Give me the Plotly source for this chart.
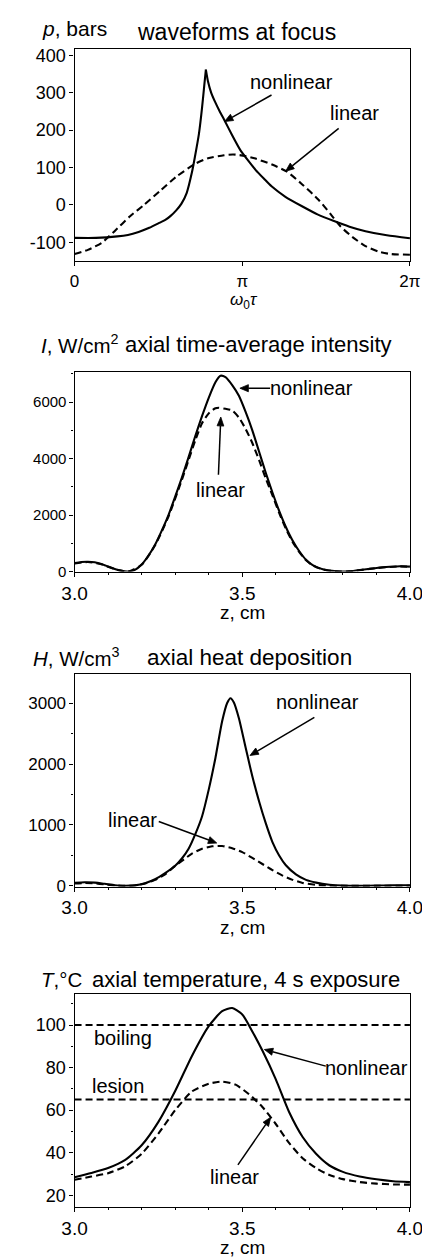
import math
import plotly.graph_objects as go

# ---- waveforms at focus (p, bars vs omega0*tau) ----
wave_nl_x = [0, 0.4, 0.8, 1.0, 1.2, 1.4, 1.6, 1.7, 1.8, 1.9, 2.0, 2.1, 2.2, 2.25, 2.33, 2.39, 2.43, 2.46,
             2.50, 2.56, 2.635, 2.72, 2.81, 2.95, 3.10, 3.25, 3.39, 3.55, 3.69, 3.95, 4.27, 4.55, 4.86,
             5.15, 5.45, 5.85, 6.2832]
wave_nl_y = [-88, -88, -84, -80, -72, -61, -47, -40, -29, -15, 3, 32, 88, 125, 190, 262, 320, 362,
             330, 300, 275, 250, 226, 187, 148, 119, 94, 70, 50, 22, -4, -25, -43,
             -58, -70, -81, -89]
wave_lin_x = [0, 0.25, 0.51, 0.75, 1.04, 1.3, 1.62, 1.9, 2.27, 2.5, 2.8, 2.97, 3.2, 3.39, 3.7, 3.98,
              4.25, 4.57, 4.8, 4.98, 5.2, 5.45, 5.7, 5.92, 6.2832]
wave_lin_y = [-131, -120, -101, -70, -30, 0, 40, 75, 111, 125, 133, 135, 131, 124, 108, 89,
              57, 14, -25, -57, -85, -110, -125, -131, -133]
wave_yticks = [-100, 0, 100, 200, 300, 400]
wave_yticktext = ["-100", "0", "100", "200", "300", "400"]

# ---- axial time-average intensity (W/cm^2 vs z, cm) ----
int_nl_z = [3.00, 3.02, 3.04, 3.06, 3.08, 3.10, 3.12, 3.14, 3.16, 3.18, 3.20, 3.22, 3.24, 3.26, 3.28,
            3.30, 3.32, 3.34, 3.36, 3.38, 3.40, 3.42, 3.435, 3.45, 3.47, 3.49, 3.51, 3.53, 3.55, 3.57,
            3.59, 3.61, 3.63, 3.65, 3.67, 3.69, 3.71, 3.74, 3.78, 3.82, 3.86, 3.90, 3.94, 3.97, 4.00]
int_nl = [300, 340, 350, 330, 270, 180, 90, 25, 5, 60, 250, 560, 950, 1450, 2000,
          2650, 3330, 4050, 4800, 5500, 6150, 6700, 6930, 6880, 6600, 6220, 5650, 5000, 4250, 3500,
          2800, 2150, 1580, 1100, 720, 420, 230, 80, 10, 10, 70, 130, 170, 190, 175]
int_lin_z = [3.00, 3.04, 3.08, 3.12, 3.16, 3.20, 3.24, 3.28, 3.32, 3.34, 3.36, 3.38, 3.40, 3.42, 3.43,
             3.45, 3.47, 3.49, 3.51, 3.53, 3.55, 3.57, 3.59, 3.61, 3.63, 3.65, 3.67, 3.69, 3.71, 3.74,
             3.78, 3.82, 3.86, 3.90, 3.94, 3.97, 4.00]
int_lin = [290, 340, 260, 85, 5, 240, 930, 1950, 3250, 3950, 4650, 5250, 5600, 5780, 5800,
           5760, 5700, 5450, 5050, 4550, 3950, 3300, 2700, 2080, 1520, 1050, 690, 400, 220, 75,
           8, 8, 65, 125, 165, 185, 170]

# ---- axial heat deposition (W/cm^3 vs z, cm) ----
heat_nl_z = [3.00, 3.03, 3.06, 3.09, 3.12, 3.15, 3.18, 3.21, 3.24, 3.27, 3.30, 3.32, 3.34, 3.36, 3.38,
             3.40, 3.42, 3.44, 3.455, 3.465, 3.475, 3.49, 3.51, 3.53, 3.55, 3.57, 3.59, 3.61, 3.63, 3.66,
             3.69, 3.72, 3.76, 3.80, 3.85, 3.90, 3.95, 4.00]
heat_nl = [50, 60, 55, 35, 12, 2, 10, 45, 110, 210, 330, 450, 610, 850, 1140,
           1580, 2100, 2700, 3000, 3080, 3010, 2750, 2270, 1800, 1390, 1030, 720, 500, 340, 190,
           100, 55, 20, 5, 2, 5, 10, 12]
heat_lin_z = [3.00, 3.03, 3.06, 3.09, 3.12, 3.15, 3.18, 3.21, 3.24, 3.27, 3.30, 3.32, 3.35, 3.38, 3.41,
              3.44, 3.47, 3.50, 3.53, 3.56, 3.59, 3.62, 3.65, 3.68, 3.72, 3.76, 3.80, 3.90, 4.00]
heat_lin = [40, 48, 42, 25, 8, 1, 8, 40, 100, 190, 330, 410, 530, 610, 650,
            655, 620, 555, 460, 360, 260, 170, 100, 50, 18, 4, 1, 2, 5]

# ---- axial temperature, 4 s exposure (deg C vs z, cm) ----
temp_nl_z = [3.00, 3.05, 3.10, 3.15, 3.20, 3.25, 3.30, 3.35, 3.40, 3.44, 3.47, 3.50, 3.53, 3.56, 3.60,
             3.64, 3.68, 3.72, 3.76, 3.80, 3.85, 3.90, 3.95, 4.00]
temp_nl = [28.5, 30.5, 32.8, 36.5, 43.5, 54.5, 69, 85.5, 99.5, 106.5, 108, 105, 97, 88, 74.5,
           59, 47.4, 39.5, 34, 31, 28.8, 27.5, 26.6, 26.2]
temp_lin_z = [3.00, 3.05, 3.10, 3.15, 3.20, 3.25, 3.30, 3.35, 3.40, 3.44, 3.48, 3.52, 3.56, 3.60, 3.64,
              3.68, 3.72, 3.76, 3.80, 3.85, 3.90, 3.95, 4.00]
temp_lin = [27.3, 28.8, 30.4, 33.5, 39.5, 49, 60, 68.8, 72.4, 73.4, 72, 67.5, 61.5, 53.5, 44.5,
            37.4, 32.8, 29.5, 27.6, 26.2, 25.5, 25.1, 25.0]
boiling_level = 100
lesion_level = 65

FONT = "Liberation Sans, Arial, sans-serif"
W, H = 430, 1258


def px2paper_x(px):
    return px / W


def px2paper_y(py):
    return 1 - py / H


XDOM = [px2paper_x(57), px2paper_x(414)]
YDOMS = [[px2paper_y(252.5), px2paper_y(38)], [px2paper_y(566), px2paper_y(364)],
         [px2paper_y(884), px2paper_y(669.3)], [px2paper_y(1207.3), px2paper_y(992)]]
XRANGES = [[0, 2 * math.pi], [3.0, 4.0], [3.0, 4.0], [3.0, 4.0]]
YRANGES = [[-150, 418], [0, 7080], [-10, 3478], [14.6, 114.8]]
DASH = "7px,4px"

fig = go.Figure()


def ax_names(n):
    return ("x" if n == 1 else "x%d" % n), ("y" if n == 1 else "y%d" % n)


def curve(x, y, n, dashed=False, shape="spline"):
    xr, yr = ax_names(n)
    fig.add_trace(go.Scatter(
        x=x, y=y, mode="lines", xaxis=xr, yaxis=yr,
        line=dict(color="black", width=2.1, dash=DASH if dashed else "solid",
                  shape=shape, smoothing=0.6 if shape == "spline" else None),
        showlegend=False, hoverinfo="skip"))


# the nonlinear waveform has a shock-like cusp: draw both flanks so the tip stays sharp
k = wave_nl_y.index(max(wave_nl_y))
curve(wave_lin_x, wave_lin_y, 1, dashed=True)
curve(wave_nl_x[:k + 1], wave_nl_y[:k + 1], 1)
curve(wave_nl_x[k:], wave_nl_y[k:], 1)
curve(int_lin_z, int_lin, 2, dashed=True)
curve(int_nl_z, int_nl, 2)
curve(heat_lin_z, heat_lin, 3, dashed=True)
curve(heat_nl_z, heat_nl, 3)
curve([3.0, 4.0], [boiling_level, boiling_level], 4, dashed=True, shape="linear")
curve([3.0, 4.0], [lesion_level, lesion_level], 4, dashed=True, shape="linear")
curve(temp_lin_z, temp_lin, 4, dashed=True)
curve(temp_nl_z, temp_nl, 4)

axis_common = dict(showline=True, mirror=True, linecolor="black", linewidth=1.2,
                   ticks="outside", ticklen=4, tickwidth=1.2, tickcolor="black",
                   showgrid=False, zeroline=False,
                   tickfont=dict(family=FONT, size=17, color="black"))

ydticks = [100, 2000, 1000, 20]
yminor = [None, 1000, 500, 10]
ytickfont = [18, 15, 17, 18]

layout = dict(width=W, height=H, margin=dict(l=0, r=0, t=0, b=0),
              paper_bgcolor="white", plot_bgcolor="white", showlegend=False)

for i in range(4):
    n = i + 1
    xr, yr = ax_names(n)
    xs = "xaxis" if n == 1 else "xaxis%d" % n
    ys = "yaxis" if n == 1 else "yaxis%d" % n
    xa = dict(axis_common, domain=XDOM, anchor=yr, range=XRANGES[i])
    ya = dict(axis_common, domain=YDOMS[i], anchor=xr, range=YRANGES[i],
              dtick=ydticks[i], tick0=0,
              tickfont=dict(family=FONT, size=ytickfont[i], color="black"))
    if n == 1:
        xa.update(tickvals=[0, math.pi, 2 * math.pi], ticktext=["0", "π", "2π"],
                  tickfont=dict(family=FONT, size=17, color="black"))
        ya.update(tickvals=wave_yticks, ticktext=wave_yticktext)
    else:
        xa.update(tick0=3.0, dtick=0.5, tickformat=".1f",
                  tickfont=dict(family=FONT, size=19, color="black"),
                  minor=dict(dtick=0.1, tick0=3.0, ticks="outside", ticklen=2.5,
                             tickcolor="black", showgrid=False))
    if yminor[i]:
        ya["minor"] = dict(dtick=yminor[i], tick0=0, ticks="outside", ticklen=2.5,
                           tickcolor="black", showgrid=False)
    layout[xs] = xa
    layout[ys] = ya

fig.update_layout(**layout)


def ptext(text, px, py, size=21, anchor="center"):
    fig.add_annotation(text=text, xref="paper", yref="paper", x=px2paper_x(px), y=px2paper_y(py),
                       xanchor=anchor, yanchor="middle", showarrow=False,
                       font=dict(family=FONT, size=size, color="black"))


def dtext(text, n, x, y, size=20):
    xr, yr = ax_names(n)
    fig.add_annotation(text=text, xref=xr, yref=yr, x=x, y=y, showarrow=False,
                       font=dict(family=FONT, size=size, color="black"))


def arrow(n, tx, ty, hx, hy, head_len=9.0, head_half=3.6):
    # straight line plus a filled triangular head, worked out in screen pixels
    xr, yr = ax_names(n)
    i = n - 1
    sx = (XDOM[1] - XDOM[0]) * W / (XRANGES[i][1] - XRANGES[i][0])
    sy = (YDOMS[i][1] - YDOMS[i][0]) * H / (YRANGES[i][1] - YRANGES[i][0])
    dx, dy = (hx - tx) * sx, (hy - ty) * sy
    L = math.hypot(dx, dy)
    ux, uy = dx / L, dy / L
    bx, by = hx - ux * head_len / sx, hy - uy * head_len / sy
    lx, ly = bx - uy * head_half / sx, by + ux * head_half / sy
    rx, ry = bx + uy * head_half / sx, by - ux * head_half / sy
    fig.add_shape(type="line", xref=xr, yref=yr, x0=tx, y0=ty, x1=bx, y1=by,
                  line=dict(color="black", width=1.5))
    fig.add_shape(type="path", xref=xr, yref=yr,
                  path="M %f,%f L %f,%f L %f,%f Z" % (hx, hy, lx, ly, rx, ry),
                  fillcolor="black", line=dict(color="black", width=0.8))


# panel titles and axis labels
ptext("<i>p</i>, bars", 20, 18, 21, "left")
ptext("waveforms at focus", 229, 21, 23)
ptext("<i>ω</i><sub>0</sub><i>τ</i>", 237, 293, 17)

ptext("<i>I</i>, W/cm<sup>2</sup>", 19, 336, 20.5, "left")
ptext("axial time-average intensity", 253, 337, 22)
ptext("z, cm", 236, 607, 19)

ptext("<i>H</i>, W/cm<sup>3</sup>", 11, 652, 20.5, "left")
ptext("axial heat deposition", 243, 653, 22.5)
ptext("z, cm", 236, 925, 19)

ptext("<i>T</i>,°C", 19, 978, 20.5, "left")
ptext("axial temperature, 4 s exposure", 239, 978, 22)
ptext("z, cm", 236, 1248, 19)

# curve labels
dtext("nonlinear", 1, 4.06, 328)
arrow(1, 3.69, 294, 2.81, 223)
dtext("linear", 1, 5.24, 246)
arrow(1, 4.948, 205, 3.953, 90)

dtext("nonlinear", 2, 3.707, 6490)
arrow(2, 3.583, 6490, 3.493, 6490)
dtext("linear", 2, 3.434, 2900)
arrow(2, 3.429, 3430, 3.436, 5470)

dtext("nonlinear", 3, 3.724, 3013)
arrow(3, 3.715, 2764, 3.523, 2140)
dtext("linear", 3, 3.173, 1083)
arrow(3, 3.251, 1057, 3.424, 704)

dtext("boiling", 4, 3.144, 93.7)
dtext("lesion", 4, 3.130, 71.4)
dtext("nonlinear", 4, 3.870, 79.8)
arrow(4, 3.749, 80.7, 3.566, 88.5)
dtext("linear", 4, 3.478, 28.7)
arrow(4, 3.487, 34.3, 3.585, 56.7)

fig.write_html("out.html")
